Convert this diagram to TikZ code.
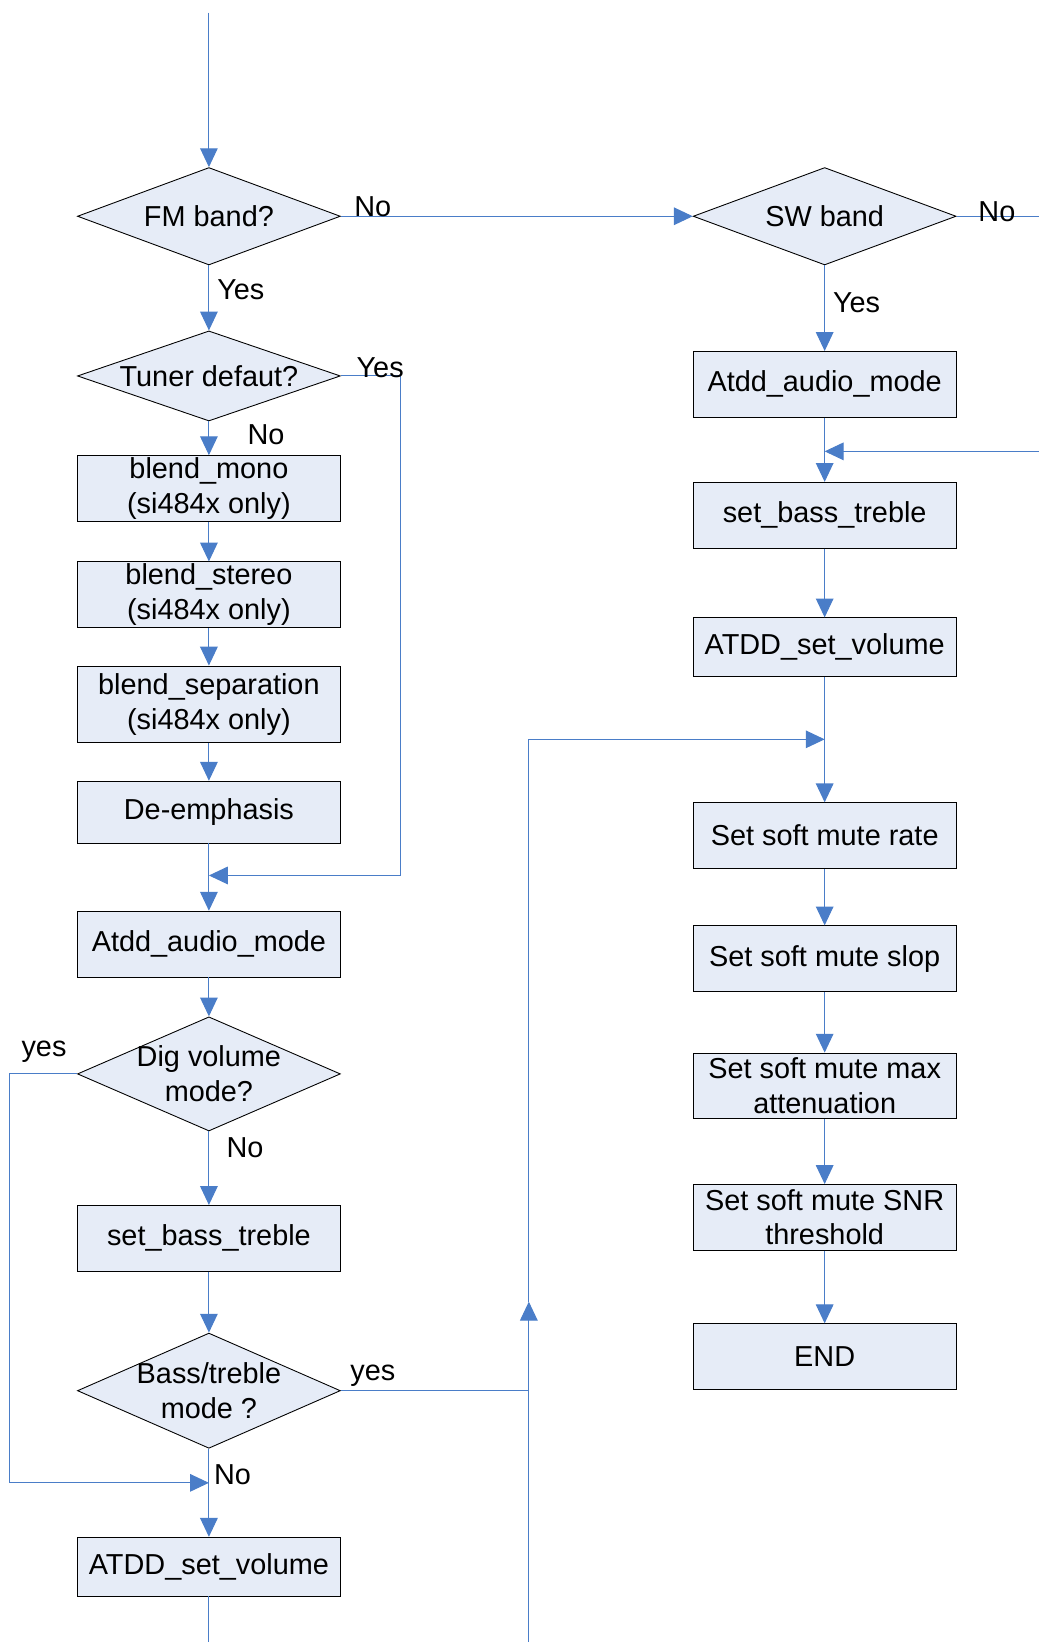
\documentclass[tikz,border=0pt]{standalone}
\usepackage{fontspec}
\setmainfont{Liberation Sans}
\usepackage{xcolor}
\usepackage{tikz}
\usetikzlibrary{shapes.geometric,arrows.meta}
\definecolor{boxfill}{RGB}{230,236,247}
\definecolor{lineblue}{RGB}{74,125,200}
\newcommand{\flowfont}{\fontsize{19.6}{23.5}\selectfont}

\begin{document}
\begin{tikzpicture}[x=0.025cm,y=-0.025cm,
    proc/.style={draw=black,line width=0.6pt,fill=boxfill,minimum width=6.275cm,minimum height=1.57cm,inner sep=0pt,align=center,font=\flowfont},
    decision/.style={diamond,draw=black,line width=0.6pt,fill=boxfill,minimum width=6.275cm,inner sep=0pt},
    dtext/.style={align=center,font=\flowfont,inner sep=0pt},
    lbl/.style={font=\flowfont,inner sep=0pt},
    wire/.style={draw=lineblue,line width=0.7pt},
    flow/.style={wire,-{Triangle[length=0.45cm,width=0.42cm]}}]
        \useasboundingbox (0,0) rectangle (992,1568);
        % Left column
        \node[decision,minimum height=2.325cm,label={[dtext]center:FM band?}] (fm) at (199.5,206.5) {};
        \node[decision,minimum height=2.15cm,label={[dtext]center:Tuner defaut?}] (tuner) at (199.5,359) {};
        \node[proc] (mono) at (199.5,466.5) {blend\_mono\\(si484x only)};
        \node[proc] (stereo) at (199.5,568) {blend\_stereo\\(si484x only)};
        \node[proc,minimum height=1.825cm] (sep) at (199.5,672.5) {blend\_separation\\(si484x only)};
        \node[proc,minimum height=1.475cm] (deemph) at (199.5,775.5) {De-emphasis};
        \node[proc] (atddl) at (199.5,901.5) {Atdd\_audio\_mode};
        \node[decision,minimum height=2.725cm,label={[dtext]center:Dig volume\\mode?}] (dig) at (199.5,1025.5) {};
        \node[proc] (bassl) at (199.5,1182.5) {set\_bass\_treble};
        \node[decision,minimum height=2.75cm,label={[dtext]center:Bass/treble\\mode ?}] (bassmode) at (199.5,1328) {};
        \node[proc,minimum height=1.4cm] (voll) at (199.5,1496) {ATDD\_set\_volume};
        % Right column
        \node[decision,minimum height=2.325cm,label={[dtext]center:SW band}] (sw) at (787.5,206.5) {};
        \node[proc] (atddr) at (787.5,367) {Atdd\_audio\_mode};
        \node[proc] (bassr) at (787.5,492) {set\_bass\_treble};
        \node[proc,minimum height=1.4cm] (volr) at (787.5,618) {ATDD\_set\_volume};
        \node[proc] (rate) at (787.5,798) {Set soft mute rate};
        \node[proc] (slop) at (787.5,915.5) {Set soft mute slop};
        \node[proc] (maxatt) at (787.5,1037) {Set soft mute max\\attenuation};
        \node[proc] (snr) at (787.5,1162.5) {Set soft mute SNR\\threshold};
        \node[proc] (endn) at (787.5,1295.5) {END};
        % Free ends and bends
        \coordinate (start) at (199.5,12);
        \coordinate (tunerbend) at (382,359);
        \coordinate (joinA) at (199.5,836);
        \coordinate (digbend) at (9,1025.5);
        \coordinate (joinB) at (199.5,1416);
        \coordinate (leftout) at (199.5,1568);
        \coordinate (joinC) at (505,1328);
        \coordinate (railbot) at (505,1568);
        \coordinate (railtip) at (505,1243);
        \coordinate (joinD) at (787.5,706);
        \coordinate (swout) at (992,206.5);
        \coordinate (rightin) at (992,431);
        \coordinate (joinE) at (787.5,431);
        % Connectors
        \draw[flow] (start) -- (fm.north);
        \draw[flow] (fm.east) -- (sw.west);
        \draw[flow] (fm.south) -- (tuner.north);
        \draw[flow] (tuner.south) -- (mono.north);
        \draw[flow] (mono.south) -- (stereo.north);
        \draw[flow] (stereo.south) -- (sep.north);
        \draw[flow] (sep.south) -- (deemph.north);
        \draw[flow] (deemph.south) -- (atddl.north);
        \draw[flow] (tuner.east) -- (tunerbend) |- (joinA);
        \draw[flow] (atddl.south) -- (dig.north);
        \draw[flow] (dig.south) -- (bassl.north);
        \draw[flow] (bassl.south) -- (bassmode.north);
        \draw[flow] (dig.west) -- (digbend) |- (joinB);
        \draw[flow] (bassmode.south) -- (voll.north);
        \draw[wire] (voll.south) -- (leftout);
        \draw[wire] (bassmode.east) -- (joinC);
        \draw[flow] (railbot) -- (railtip);
        \draw[flow] (railtip) |- (joinD);
        \draw[wire] (sw.east) -- (swout);
        \draw[flow] (sw.south) -- (atddr.north);
        \draw[flow] (atddr.south) -- (bassr.north);
        \draw[flow] (rightin) -- (joinE);
        \draw[flow] (bassr.south) -- (volr.north);
        \draw[flow] (volr.south) -- (rate.north);
        \draw[flow] (rate.south) -- (slop.north);
        \draw[flow] (slop.south) -- (maxatt.north);
        \draw[flow] (maxatt.south) -- (snr.north);
        \draw[flow] (snr.south) -- (endn.north);
        % Branch labels
        \node[lbl] (fmno) at (356,197) {No};
        \node[lbl] (fmyes) at (230,277) {Yes};
        \node[lbl] (swno) at (952,202) {No};
        \node[lbl] (swyes) at (818,289) {Yes};
        \node[lbl] (tuneryes) at (363,351) {Yes};
        \node[lbl] (tunerno) at (254,415) {No};
        \node[lbl] (digyes) at (42,1004) {yes};
        \node[lbl] (digno) at (234,1096) {No};
        \node[lbl] (bassyes) at (356,1314) {yes};
        \node[lbl] (bassno) at (222,1408) {No};
\end{tikzpicture}
\end{document}
